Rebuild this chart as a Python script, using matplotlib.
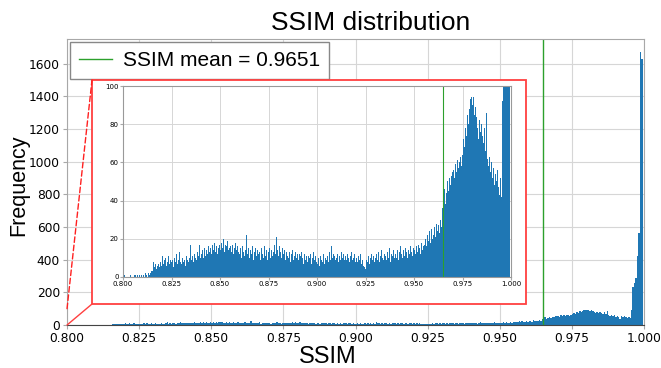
import numpy as np
import matplotlib
matplotlib.use("Agg")
import matplotlib.pyplot as plt
from matplotlib.patches import Rectangle, ConnectionPatch

# histogram counts, bin width 0.0005, one list per 0.025 of SSIM
counts_800 = [0, 1, 0, 0, 0, 0, 0, 1, 0, 0,
              0, 1, 1, 0, 1, 0, 1, 0, 0, 1,
              0, 1, 0, 2, 1, 0, 2, 1, 2, 3,
              3, 8, 5, 7, 4, 6, 7, 5, 8, 6,
              11, 7, 9, 10, 6, 8, 11, 7, 9, 8]
counts_825 = [6, 9, 5, 10, 8, 12, 7, 9, 13, 8,
              7, 10, 8, 9, 6, 11, 9, 8, 10, 17,
              9, 11, 8, 12, 10, 9, 13, 11, 17, 10,
              12, 14, 10, 13, 15, 11, 14, 12, 16, 13,
              15, 12, 17, 14, 18, 13, 16, 12, 15, 17]
counts_850 = [14, 18, 15, 20, 13, 17, 16, 19, 14, 15,
              16, 13, 17, 12, 15, 18, 14, 11, 16, 13,
              12, 15, 10, 16, 13, 11, 14, 22, 12, 15,
              10, 14, 12, 16, 9, 13, 15, 11, 14, 12,
              13, 9, 15, 12, 10, 16, 11, 14, 9, 13]
counts_875 = [12, 15, 10, 14, 11, 13, 17, 12, 21, 14,
              11, 16, 13, 10, 15, 12, 14, 9, 13, 11,
              10, 13, 8, 12, 14, 9, 11, 13, 10, 12,
              9, 12, 11, 8, 13, 10, 7, 12, 9, 11,
              8, 11, 10, 12, 7, 10, 13, 9, 11, 8]
counts_900 = [7, 10, 6, 11, 9, 8, 12, 7, 10, 9,
              11, 8, 13, 9, 16, 10, 12, 8, 11, 9,
              10, 12, 8, 11, 9, 13, 10, 12, 9, 11,
              9, 12, 10, 8, 11, 13, 9, 10, 12, 8,
              10, 8, 11, 9, 12, 7, 9, 6, 5, 4]
counts_925 = [6, 9, 8, 11, 7, 10, 12, 9, 11, 8,
              10, 12, 9, 13, 8, 11, 14, 10, 9, 12,
              11, 9, 13, 10, 15, 8, 12, 11, 14, 10,
              12, 10, 14, 11, 9, 13, 16, 12, 10, 14,
              11, 15, 13, 10, 14, 12, 16, 13, 11, 15]
counts_950 = [14, 12, 16, 13, 17, 15, 12, 18, 14, 16,
              17, 20, 16, 22, 19, 24, 18, 21, 25, 20,
              22, 26, 21, 28, 24, 27, 23, 30, 26, 36,
              40, 46, 38, 44, 50, 45, 52, 48, 53, 55,
              56, 52, 59, 55, 61, 57, 60, 63, 58, 64]
counts_975 = [66, 72, 68, 78, 74, 85, 80, 88, 93, 94,
              90, 94, 85, 89, 84, 78, 72, 82, 76, 80,
              74, 70, 78, 66, 86, 62, 58, 63, 55, 60,
              52, 57, 48, 37, 54, 50, 56, 47, 43, 52,
              42, 92, 233, 260, 288, 420, 564, 1670, 1626, 0]

ssim_mean = 0.9651
x_ticks = [0.800, 0.825, 0.850, 0.875, 0.900, 0.925, 0.950, 0.975, 1.000]
main_yticks = [0, 200, 400, 600, 800, 1000, 1200, 1400, 1600]
inset_yticks = [0, 20, 40, 60, 80, 100]

counts = np.array(counts_800 + counts_825 + counts_850 + counts_875
                  + counts_900 + counts_925 + counts_950 + counts_975)
edges = np.linspace(0.8, 1.0, len(counts) + 1)
centers = (edges[:-1] + edges[1:]) / 2

bar_color = "#1f77b4"
line_color = "#2ca02c"
grid_color = "#d6d6d6"
spine_color = "#a8a8a8"
label_font = "Liberation Sans"

fig = plt.figure(figsize=(6.61, 3.68), dpi=100)

# main axes
ax = fig.add_axes([0.1014, 0.1168, 0.8729, 0.7772])
ax.hist(centers, bins=edges, weights=counts, color=bar_color)
ax.axvline(ssim_mean, color=line_color, lw=1.0,
           label="SSIM mean = %.4f" % ssim_mean)
ax.set_xlim(0.8, 1.0)
ax.set_ylim(0, 1750)
ax.set_xticks(x_ticks)
ax.set_xticklabels(["%.3f" % t for t in x_ticks])
ax.set_yticks(main_yticks)
ax.tick_params(labelsize=8.8, color=spine_color, length=3, pad=2)
ax.grid(True, color=grid_color, lw=0.8)
ax.set_axisbelow(True)
for name, sp in ax.spines.items():
    sp.set_color(spine_color)
ax.spines["bottom"].set_color("#444444")
ax.legend(loc="upper left", prop={"family": label_font, "size": 15},
          fancybox=False, framealpha=1, edgecolor="#888888",
          borderpad=0.45, handlelength=1.6, handletextpad=0.5,
          bbox_to_anchor=(0.0, 1.0), borderaxespad=0.12)
ax.set_zorder(0)

# labels
fig.text(0.561, 0.918, "SSIM distribution", family=label_font, size=19,
         ha="center", va="baseline")
fig.text(0.496, 0.014, "SSIM", family=label_font, size=17,
         ha="center", va="baseline")
fig.text(0.029, 0.497, "Frequency", family=label_font, size=15.5,
         ha="center", va="center", rotation=90)

# red frame around the zoomed view
box_l, box_b, box_r, box_t = 0.1392, 0.1739, 0.7958, 0.7826
frame = Rectangle((box_l, box_b), box_r - box_l, box_t - box_b,
                  transform=fig.transFigure, facecolor="white",
                  edgecolor="#ff4040", lw=1.3, zorder=1)
fig.add_artist(frame)
con_low = ConnectionPatch(xyA=(0.8, 0), coordsA=ax.transData,
                          xyB=(box_l, box_b), coordsB=fig.transFigure,
                          color="#ff4040", lw=1.0, zorder=1)
con_up = ConnectionPatch(xyA=(0.8, 100), coordsA=ax.transData,
                         xyB=(box_l, box_t), coordsB=fig.transFigure,
                         color="#ff2020", lw=1.0, ls=(0, (4, 2)), zorder=1)
fig.add_artist(con_low)
fig.add_artist(con_up)

# inset axes, y clipped at 100
axin = fig.add_axes([0.1861, 0.2473, 0.5870, 0.5190])
axin.set_zorder(2)
axin.hist(centers, bins=edges, weights=counts, color=bar_color)
axin.axvline(ssim_mean, color=line_color, lw=0.8)
axin.set_xlim(0.8, 1.0)
axin.set_ylim(0, 100)
axin.set_xticks(x_ticks)
axin.set_xticklabels(["%.3f" % t for t in x_ticks])
axin.set_yticks(inset_yticks)
axin.tick_params(labelsize=5, color=spine_color, length=2, pad=1)
axin.grid(True, color=grid_color, lw=0.7)
axin.set_axisbelow(True)
for sp in axin.spines.values():
    sp.set_color("#999999")

fig.savefig("out.png", dpi=100)
